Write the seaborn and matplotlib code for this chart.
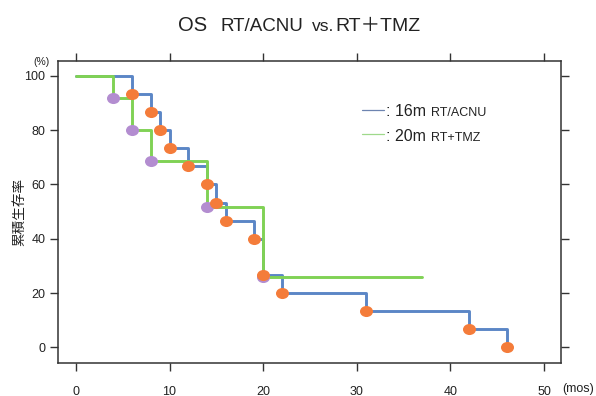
import matplotlib
matplotlib.use("Agg")
import matplotlib.pyplot as plt
import seaborn as sns
import numpy as np
import pandas as pd
from matplotlib.path import Path
from matplotlib.transforms import Affine2D
from matplotlib.lines import Line2D

# ---- data ----
acnu_time = [0, 6, 8, 9, 10, 12, 14, 15, 16, 19, 20, 22, 31, 42, 46]
acnu_surv = [100, 93.3, 86.7, 80.0, 73.3, 66.7, 60.0, 53.3, 46.7, 40.0, 26.7, 20.0, 13.3, 6.7, 0.0]
tmz_time = [0, 4, 6, 8, 14, 20, 37]
tmz_surv = [100, 91.7, 80.2, 68.8, 51.6, 25.8, 25.8]
x_ticks = [0, 10, 20, 30, 40, 50]
y_ticks = [0, 20, 40, 60, 80, 100]

sns.set_style("ticks")
plt.rcParams['font.family'] = ['Liberation Sans', 'Noto Sans CJK JP', 'DejaVu Sans']

W, H = 596, 396
fig = plt.figure(figsize=(W / 100, H / 100), dpi=100)
ax = fig.add_axes([58.3 / W, (H - 363.3) / H, (561 - 58.3) / W, (363.3 - 60.5) / H])

blue = "#5b86c6"
green = "#80d255"
orange = "#f47c3a"
purple = "#b38dd0"

acnu = pd.DataFrame({"t": acnu_time, "s": acnu_surv})
tmz = pd.DataFrame({"t": tmz_time, "s": tmz_surv})

sns.lineplot(data=acnu, x="t", y="s", ax=ax, color=blue, lw=2.1,
             drawstyle="steps-post", estimator=None, sort=False, zorder=2)
sns.lineplot(data=tmz, x="t", y="s", ax=ax, color=green, lw=2.1,
             drawstyle="steps-post", estimator=None, sort=False, zorder=3)

ell = Path.unit_circle().transformed(Affine2D().scale(1.0, 0.85))
sns.scatterplot(data=tmz.iloc[1:-1], x="t", y="s", ax=ax, color=purple,
                marker=ell, s=88, linewidth=0, zorder=4)
sns.scatterplot(data=acnu.iloc[1:], x="t", y="s", ax=ax, color=orange,
                marker=ell, s=88, linewidth=0, zorder=5)

ax.set_xlim(-1.88, 51.8)
ax.set_ylim(-5.9, 105.7)
ax.set_xticks(x_ticks)
ax.set_yticks(y_ticks)
ax.set_xlabel("")
ax.set_ylabel("")
for sp in ax.spines.values():
    sp.set_visible(True)
    sp.set_color("#333333")
    sp.set_linewidth(1.1)
ax.tick_params(axis="both", which="both", direction="out", color="#333333",
               width=1.0, labelsize=9, labelcolor="#222222",
               top=True, right=True, labeltop=False, labelright=False)
ax.tick_params(axis="x", length=5.5, pad=10.5)
ax.tick_params(axis="y", length=5.8, pad=3.5)

# title
base = 1 - 30.7 / H
fig.text(178 / W, base, "OS", fontsize=14.5, va="baseline", ha="left", color="#222222")
fig.text(220 / W, base, "RT/ACNU", fontsize=13.5, va="baseline", ha="left", color="#222222")
fig.text(312 / W, base, "vs.", fontsize=12.5, va="baseline", ha="left", color="#222222")
fig.text(335 / W, base, "RT＋TMZ", fontsize=14, va="baseline", ha="left", color="#222222")

# axis annotations
fig.text(41 / W, 1 - 62 / H, "(%)", fontsize=7.5, ha="center", va="center", color="#222222")
fig.text(578 / W, 1 - 389 / H, "(mos)", fontsize=9, ha="center", va="center", color="#222222")
fig.text(19 / W, 1 - 211.5 / H, "累積生存率", fontsize=9.8, rotation=90,
         ha="center", va="center", color="#222222")

# legend
fig.add_artist(Line2D([362 / W, 384 / W], [1 - 110 / H] * 2, color="#6d84b0", lw=0.9))
fig.add_artist(Line2D([362 / W, 384 / W], [1 - 134 / H] * 2, color="#9fd98b", lw=0.9))
fig.text(386 / W, 1 - 116 / H, ": 16m", fontsize=11.5, va="baseline", ha="left", color="#222222")
fig.text(431 / W, 1 - 116 / H, "RT/ACNU", fontsize=9, va="baseline", ha="left", color="#222222")
fig.text(386 / W, 1 - 141.5 / H, ": 20m", fontsize=11.5, va="baseline", ha="left", color="#222222")
fig.text(431 / W, 1 - 141.5 / H, "RT+TMZ", fontsize=9, va="baseline", ha="left", color="#222222")

fig.savefig("out.png", dpi=100)
